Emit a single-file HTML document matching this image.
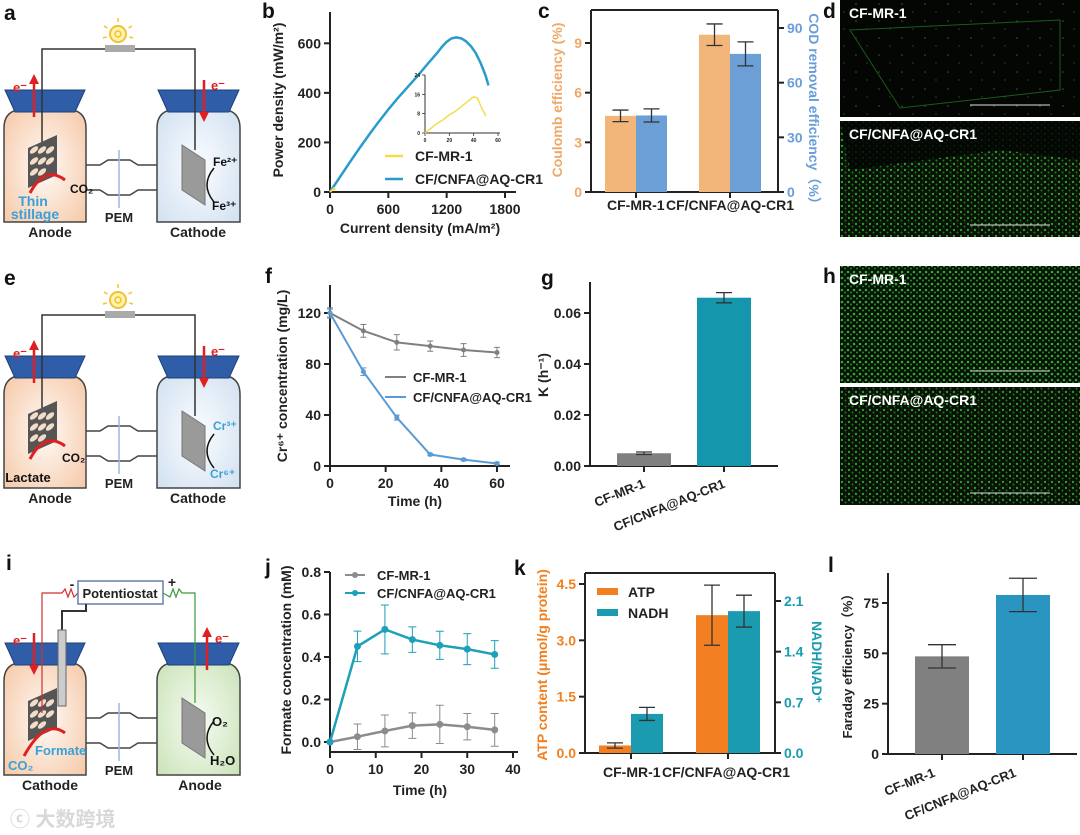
<!DOCTYPE html>
<html><head><meta charset="utf-8">
<style>
html,body{margin:0;padding:0;background:#fff;}
svg{display:block;font-family:"Liberation Sans","Noto Sans CJK SC",sans-serif;}
text{font-weight:bold;}
</style></head>
<body>
<svg id="fig" width="1080" height="835" viewBox="0 0 1080 835" xmlns="http://www.w3.org/2000/svg">
<defs>
<radialGradient id="peach" cx="50%" cy="55%" r="70%"><stop offset="0" stop-color="#fffaf6"/><stop offset="1" stop-color="#f5c6a4"/></radialGradient>
<radialGradient id="icy" cx="50%" cy="55%" r="70%"><stop offset="0" stop-color="#fbfdff"/><stop offset="1" stop-color="#cfdff0"/></radialGradient>
<radialGradient id="mint" cx="50%" cy="55%" r="70%"><stop offset="0" stop-color="#f6fbf2"/><stop offset="1" stop-color="#c8e2b6"/></radialGradient>
<pattern id="sparse" width="23" height="17" patternUnits="userSpaceOnUse"><rect width="23" height="17" fill="#030603"/><circle cx="5" cy="4" r="0.8" fill="#1f6b1f"/><circle cx="16" cy="12" r="0.7" fill="#1a5a1a"/></pattern>
<pattern id="dense" width="7" height="6" patternUnits="userSpaceOnUse"><rect width="7" height="6" fill="#061006"/><circle cx="2" cy="2" r="1.2" fill="#2f9a2f"/><circle cx="5.5" cy="4.5" r="1" fill="#237823"/><circle cx="6" cy="1" r="0.5" fill="#7a2a1a"/></pattern>
<pattern id="dense2" width="6" height="6" patternUnits="userSpaceOnUse"><rect width="6" height="6" fill="#071207"/><circle cx="2" cy="2" r="1.3" fill="#35a635"/><circle cx="5" cy="4.5" r="1" fill="#2a8a2a"/></pattern>
</defs>
</svg>
<script>
// ---------- chart data ----------
const bCurrentBlue = [0,100,200,300,400,500,600,700,800,900,1000,1100,1150,1200,1250,1300,1350,1400,1450,1500,1550,1600,1630];
const bPowerBlue   = [0,59,118,175,230,283,333,380,424,468,515,560,585,606,620,624,620,608,588,560,520,470,430];
const bCurrentYellow = [0,5,10,15,20,25,30,35,40,43,46,50];
const bPowerYellow   = [0,2,4,5.5,7.5,9,11,13,15,14.5,11,7];
const bXTicks = [0,600,1200,1800];
const bYTicks = [0,200,400,600];
const bInsetXTicks = [0,20,40,60];
const bInsetYTicks = [0,8,16,24];

const cCategories = ["CF-MR-1","CF/CNFA@AQ-CR1"];
const cCoulomb = [4.6,9.5];
const cCoulombErr = [0.35,0.65];
const cCOD = [42,75.8];
const cCODErr = [3.6,6.6];
const cLeftTicks = [0,3,6,9];
const cRightTicks = [0,30,60,90];

const fTime = [0,12,24,36,48,60];
const fGrey = [120,106,97,94,91,89];
const fGreyErr = [4,5,6,4,5,4];
const fBlue = [120,74,38,9,5,2];
const fBlueErr = [3,3,2,1,1,1];
const fXTicks = [0,20,40,60];
const fYTicks = [0,40,80,120];

const gCategories = ["CF-MR-1","CF/CNFA@AQ-CR1"];
const gK = [0.005,0.066];
const gKErr = [0.0005,0.002];
const gYTicks = [0,0.02,0.04,0.06];

const jTime = [0,6,12,18,24,30,36];
const jGrey = [0,0.025,0.052,0.077,0.083,0.072,0.057];
const jGreyErr = [0,0.06,0.075,0.06,0.09,0.062,0.077];
const jTeal = [0,0.45,0.53,0.482,0.455,0.437,0.412];
const jTealErr = [0,0.072,0.115,0.06,0.066,0.073,0.065];
const jXTicks = [0,10,20,30,40];
const jYTicks = [0,0.2,0.4,0.6,0.8];

const kCategories = ["CF-MR-1","CF/CNFA@AQ-CR1"];
const kATP = [0.2,3.67];
const kATPErr = [0.07,0.8];
const kNADH = [0.54,1.96];
const kNADHErr = [0.09,0.22];
const kLeftTicks = [0,1.5,3.0,4.5];
const kRightTicks = [0,0.7,1.4,2.1];

const lCategories = ["CF-MR-1","CF/CNFA@AQ-CR1"];
const lFaraday = [48.5,79];
const lFaradayErr = [5.8,8.3];
const lYTicks = [0,25,50,75];

// ---------- helpers ----------
const NS='http://www.w3.org/2000/svg';
const svg=document.getElementById('fig');
function mk(parent,tag,attrs,txt){const e=document.createElementNS(NS,tag);for(const k in attrs)e.setAttribute(k,attrs[k]);if(txt!==undefined)e.textContent=txt;parent.appendChild(e);return e;}
function lin(d0,d1,r0,r1){return v=>r0+(v-d0)*(r1-r0)/(d1-d0);}
function grp(name){const g=mk(svg,'g',{});


return g;}
function label(g,x,y,t,name,opt){opt=opt||{};const e=mk(g,'text',{x:x,y:y,'font-size':opt.fs||13,'text-anchor':opt.anchor||'middle',fill:opt.fill||'#222'},t);
if(opt.rot!==undefined)e.setAttribute('transform','rotate('+opt.rot+' '+x+' '+y+')');


return e;}
function line(g,x1,y1,x2,y2,c,w,name){const e=mk(g,'line',{x1:x1,y1:y1,x2:x2,y2:y2,stroke:c||'#222','stroke-width':w||2});


return e;}
function yAxis(g,x,yb,yt,sc,ticks,fmt,side,col){line(g,x,yb,x,yt,'#222',2,'y-axis');
ticks.forEach(t=>{const y=sc(t);const dx=side==='r'?6:-6;line(g,x,y,x+dx,y,'#222',2,'y-tick');
label(g,x+(side==='r'?9:-9),y+5,fmt(t),'y-tick-label',{anchor:side==='r'?'start':'end',fill:col||'#222',fs:14});});}
function xAxis(g,y,xl,xr,sc,ticks,fmt){line(g,xl,y,xr,y,'#222',2,'x-axis');
ticks.forEach(t=>{const x=sc(t);line(g,x,y,x,y+6,'#222',2,'x-tick');label(g,x,y+22,fmt(t),'x-tick-label',{fs:14});});}
function errbar(g,x,y1,y2,cap,c,w){const e=mk(g,'path',{d:`M${x-cap} ${y1}H${x+cap}M${x} ${y1}V${y2}M${x-cap} ${y2}H${x+cap}`,stroke:c||'#333','stroke-width':w||1.3,fill:'none'});

}
function bar(g,x0,x1,yv,y0,fill,name){const r=mk(g,'rect',{x:x0,y:yv,width:x1-x0,height:y0-yv,fill:fill});


return r;}
function poly(g,xs,ys,sx,sy,col,w,name){const p=mk(g,'polyline',{points:xs.map((v,i)=>sx(v)+','+sy(ys[i])).join(' '),fill:'none',stroke:col,'stroke-width':w,'stroke-linejoin':'round'});

}
function letter(x,y,t){label(svg,x,y,t,'panel-label-'+t,{fs:21,anchor:'start',fill:'#111'});}

// ---------- schematics ----------
function cell(oy,leftFill,rightFill,kind){
 const g=grp('schematic-'+kind);
 const jar=(x0,x1,fill,nm)=>{const p=mk(g,'path',{d:`M${x0+13} ${oy+100}H${x1-13}V${oy+110}Q${x1} ${oy+113} ${x1} ${oy+128}V${oy+222}H${x0}V${oy+128}Q${x0} ${oy+113} ${x0+13} ${oy+110}Z`,fill:fill,stroke:'#444','stroke-width':1.5});
  
  
  const c=mk(g,'path',{d:`M${x0+1} ${oy+90}H${x1-1}L${x1-11} ${oy+112}H${x0+11}Z`,fill:'#2f5da8',stroke:'#1d3f7a','stroke-width':1});
  
  };
 const tb=mk(g,'path',{d:`M86 ${oy+165}H100L108 ${oy+160}H130L138 ${oy+165}H157M86 ${oy+190}H100L108 ${oy+195}H130L138 ${oy+190}H157`,stroke:'#444','stroke-width':1.5,fill:'none'});
 
 
 jar(4,86,leftFill,'left-chamber');
 jar(157,240,rightFill,'right-chamber');
 line(g,119,oy+150,119,oy+208,'#9bb8de',1.5,'pem-membrane');
 label(g,119,oy+222,'PEM','pem-label',{fs:13});
 if(kind!=='i'){
  mk(g,'path',{d:`M42 ${oy+160}V${oy+49}H195V${oy+150}`,stroke:'#333','stroke-width':1.5,fill:'none'});
  mk(g,'rect',{x:105,y:oy+45,width:30,height:7,fill:'#aaa'});
  mk(g,'circle',{cx:118,cy:oy+34,r:8,fill:'#fff3b0',stroke:'#f1c232','stroke-width':2});
  mk(g,'circle',{cx:118,cy:oy+34,r:3,fill:'none',stroke:'#f1c232','stroke-width':1.5});
  [[-14,-8],[14,-8],[0,-16],[-15,4],[15,4]].forEach(d=>mk(g,'line',{x1:118+d[0]*0.75,y1:oy+34+d[1]*0.75,x2:118+d[0],y2:oy+34+d[1],stroke:'#f1c232','stroke-width':1.5}));
  label(g,50,oy+237,'Anode','anode-label',{fs:14});
  label(g,198,oy+237,'Cathode','cathode-label',{fs:14});
  mk(g,'path',{d:`M34 ${oy+117}V${oy+80}`,stroke:'#e02020','stroke-width':2.5});
  mk(g,'path',{d:`M29 ${oy+84}L34 ${oy+74}L39 ${oy+84}Z`,fill:'#e02020'});
  label(g,20,oy+92,'e⁻','electron-label-anode',{fs:13,fill:'#e02020'});
  mk(g,'path',{d:`M204 ${oy+80}V${oy+115}`,stroke:'#e02020','stroke-width':2.5});
  mk(g,'path',{d:`M199 ${oy+112}L204 ${oy+122}L209 ${oy+112}Z`,fill:'#e02020'});
  label(g,218,oy+90,'e⁻','electron-label-cathode',{fs:13,fill:'#e02020'});
 }
 mk(g,'path',{d:`M28 ${oy+148}L57 ${oy+135}V${oy+175}L28 ${oy+188}Z`,fill:'#555'});
 for(let i=0;i<8;i++)mk(g,'ellipse',{cx:34+(i%3)*8,cy:oy+150+Math.floor(i/3)*11,rx:5,ry:2.5,fill:'#f3dcc8',transform:`rotate(-40 ${34+(i%3)*8} ${oy+150+Math.floor(i/3)*11})`});
 const ax=kind==='i'?24:30, ay=oy+(kind==='i'?203:193);
 mk(g,'path',{d:`M${ax} ${ay}Q45 ${oy+165} 65 ${oy+180}`,stroke:'#e02020','stroke-width':3,fill:'none'});
 mk(g,'path',{d:`M182 ${oy+145}L205 ${oy+160}V${oy+205}L182 ${oy+190}Z`,fill:'#9a9a9a',stroke:'#777'});
 mk(g,'path',{d:`M214 ${oy+168}Q200 ${oy+185} 214 ${oy+202}`,stroke:'#111','stroke-width':1.5,fill:'none'});
 if(kind==='a'){
  label(g,70,oy+193,'CO₂','co2-label',{fs:12,anchor:'start',fill:'#111'});
  label(g,33,oy+206,'Thin','substrate-label',{fs:14,fill:'#3aa0d8'});
  label(g,35,oy+219,'stillage','substrate-label-2',{fs:14,fill:'#3aa0d8'});
  label(g,213,oy+166,'Fe²⁺','fe2-label',{fs:12,anchor:'start',fill:'#111'});
  label(g,212,oy+210,'Fe³⁺','fe3-label',{fs:12,anchor:'start',fill:'#111'});
 } else if(kind==='e'){
  label(g,62,oy+196,'CO₂','co2-label',{fs:12,anchor:'start',fill:'#111'});
  label(g,28,oy+216,'Lactate','substrate-label',{fs:13,fill:'#111'});
  label(g,213,oy+164,'Cr³⁺','cr3-label',{fs:12,anchor:'start',fill:'#3aa0d8'});
  label(g,210,oy+212,'Cr⁶⁺','cr6-label',{fs:12,anchor:'start',fill:'#3aa0d8'});
 } else {
  label(g,50,oy+237,'Cathode','cathode-label',{fs:14});
  label(g,200,oy+237,'Anode','anode-label',{fs:14});
  mk(g,'path',{d:`M42 ${oy+160}V${oy+40}H62L65 ${oy+36}L68 ${oy+44}L71 ${oy+36}L74 ${oy+44}L78 ${oy+40}`,stroke:'#d03030','stroke-width':1.2,fill:'none'});
  mk(g,'path',{d:`M195 ${oy+150}V${oy+40}H182L179 ${oy+36}L176 ${oy+44}L173 ${oy+36}L170 ${oy+44}L163 ${oy+40}`,stroke:'#3a9a3a','stroke-width':1.2,fill:'none'});
  const pb=mk(g,'rect',{x:78,y:oy+28,width:85,height:23,fill:'#fff',stroke:'#6a7fa8','stroke-width':1.5});
  
  
  label(g,120,oy+45,'Potentiostat','potentiostat-label',{fs:13});
  label(g,72,oy+36,'-','minus-label',{fs:14});
  label(g,172,oy+34,'+','plus-label',{fs:14});
  mk(g,'path',{d:`M86 ${oy+51}V${oy+58}H62V${oy+80}`,stroke:'#333','stroke-width':2,fill:'none'});
  mk(g,'rect',{x:58,y:oy+77,width:8,height:76,fill:'#ccc',stroke:'#666'});
  mk(g,'path',{d:`M34 ${oy+80}V${oy+117}`,stroke:'#e02020','stroke-width':2.5});
  mk(g,'path',{d:`M29 ${oy+112}L34 ${oy+122}L39 ${oy+112}Z`,fill:'#e02020'});
  label(g,20,oy+92,'e⁻','electron-label-cathode',{fs:13,fill:'#e02020'});
  mk(g,'path',{d:`M207 ${oy+117}V${oy+80}`,stroke:'#e02020','stroke-width':2.5});
  mk(g,'path',{d:`M202 ${oy+84}L207 ${oy+74}L212 ${oy+84}Z`,fill:'#e02020'});
  label(g,222,oy+90,'e⁻','electron-label-anode',{fs:13,fill:'#e02020'});
  label(g,35,oy+202,'Formate','product-label',{fs:13,anchor:'start',fill:'#3aa0d8'});
  label(g,8,oy+217,'CO₂','co2-label',{fs:13,anchor:'start',fill:'#3aa0d8'});
  label(g,212,oy+173,'O₂','o2-label',{fs:13,anchor:'start',fill:'#111'});
  label(g,210,oy+212,'H₂O','h2o-label',{fs:13,anchor:'start',fill:'#111'});
 }
}
cell(0,'url(#peach)','url(#icy)','a');
cell(266,'url(#peach)','url(#icy)','e');
cell(553,'url(#peach)','url(#mint)','i');
letter(4,20,'a');letter(4,285,'e');letter(6,570,'i');
label(svg,10,826,'ⓒ 大数跨境','watermark',{fs:20,anchor:'start',fill:'#d8d8d8'});

// ---------- panel b ----------
(function(){const g=grp('panel-b-power-density');
 const sx=lin(0,1800,330,505), sy=lin(0,600,192,43.3);
 yAxis(g,330,192,12,sy,bYTicks,v=>v,'l');
 xAxis(g,192,330,516,sx,bXTicks,v=>v);
 poly(g,bCurrentBlue,bPowerBlue,sx,sy,'#2a9ccc',2.5,'series-cf-cnfa-aq-cr1');
 poly(g,bCurrentYellow,bPowerYellow,sx,sy,'#f2de4a',2,'series-cf-mr-1');
 label(g,283,100,'Power density (mW/m²)','y-axis-title',{fs:14,rot:-90});
 label(g,420,233,'Current density (mA/m²)','x-axis-title',{fs:14});
 const ix=lin(0,60,425,498), iy=lin(0,24,133,75);
 line(g,425,133,425,75,'#333',1,'inset-y-axis');line(g,425,133,500,133,'#333',1,'inset-x-axis');
 bInsetYTicks.forEach(t=>{line(g,425,iy(t),422,iy(t),'#333',0.8,'inset-tick');label(g,420,iy(t)+2,t,'inset-tick-label',{fs:5,anchor:'end'});});
 bInsetXTicks.forEach(t=>{line(g,ix(t),133,ix(t),136,'#333',0.8,'inset-tick');label(g,ix(t),142,t,'inset-tick-label',{fs:5});});
 poly(g,bCurrentYellow,bPowerYellow,ix,iy,'#f2de4a',1.5,'inset-series-cf-mr-1');
 line(g,385,156,403,156,'#f2de4a',2.5,'legend-swatch-cf-mr-1');label(g,415,161,'CF-MR-1','legend-cf-mr-1',{anchor:'start',fs:14});
 line(g,385,179,403,179,'#2a9ccc',2.5,'legend-swatch-cf-cnfa');label(g,415,184,'CF/CNFA@AQ-CR1','legend-cf-cnfa',{anchor:'start',fs:14});
})();
letter(262,18,'b');

// ---------- panel c ----------
(function(){const g=grp('panel-c-efficiency');
 const syl=lin(0,9,192,43), syr=lin(0,90,192,28);
 line(g,591,10,778,10,'#222',2,'top-frame');
 yAxis(g,591,192,10,syl,cLeftTicks,v=>v,'l','#f0a868');
 yAxis(g,778,192,10,syr,cRightTicks,v=>v,'r','#6a9ed8');
 line(g,591,192,778,192,'#222',2,'x-axis');
 const groups=[605,699], bw=31;
 cCategories.forEach((c,i)=>{const x=groups[i];
  bar(g,x,x+bw,syl(cCoulomb[i]),192,'#f2b57a','bar-coulomb-'+i);
  bar(g,x+bw,x+2*bw,syr(cCOD[i]),192,'#6b9fd6','bar-cod-'+i);
  errbar(g,x+bw/2,syl(cCoulomb[i]+cCoulombErr[i]),syl(cCoulomb[i]-cCoulombErr[i]),8);
  errbar(g,x+1.5*bw,syr(cCOD[i]+cCODErr[i]),syr(cCOD[i]-cCODErr[i]),8);
  line(g,x+bw,192,x+bw,198,'#222',2,'x-tick');});
 label(g,607,210,cCategories[0],'x-label-cf-mr-1',{anchor:'start',fs:14});
 label(g,666,210,cCategories[1],'x-label-cf-cnfa',{anchor:'start',fs:14});
 label(g,562,100,'Coulomb efficiency (%)','y-axis-title-left',{fs:14,rot:-90,fill:'#f0a868'});
 label(g,809,112,'COD removal efficiency（%）','y-axis-title-right',{fs:14,rot:90,fill:'#6a9ed8'});
})();
letter(538,18,'c');

// ---------- images d, h ----------
function micro(x,y,w,h,fill,t,name){const g=grp(name);
 const r=mk(g,'rect',{x:x,y:y,width:w,height:h,fill:fill});
 
 
 label(g,x+9,y+18,t,'image-label',{anchor:'start',fill:'#fff',fs:14});
 line(g,x+130,y+h-12,x+210,y+h-12,'#ddd',1,'scale-bar');}
micro(840,0,240,117,'url(#sparse)','CF-MR-1','image-d-top');
micro(840,121,240,116,'url(#dense)','CF/CNFA@AQ-CR1','image-d-bottom');
micro(840,266,240,117,'url(#dense2)','CF-MR-1','image-h-top');
micro(840,387,240,118,'url(#dense)','CF/CNFA@AQ-CR1','image-h-bottom');
mk(svg,'path',{d:'M850 30L1060 20V90L900 108Z',fill:'none',stroke:'#1c5a1c','stroke-width':1});
mk(svg,'path',{d:'M840 121H1080V160L1000 150L850 170Z',fill:'#030603',opacity:0.85});
label(svg,849,139,'CF/CNFA@AQ-CR1','image-label-d-bottom',{anchor:'start',fill:'#fff',fs:14});
letter(823,18,'d');letter(823,283,'h');

// ---------- panel f ----------
(function(){const g=grp('panel-f-cr6-concentration');
 const sx=lin(0,60,330,497), sy=lin(0,120,466,313);
 yAxis(g,330,466,285,sy,fYTicks,v=>v,'l');
 xAxis(g,466,330,510,sx,fXTicks,v=>v);
 [[fGrey,fGreyErr,'#808080','series-cf-mr-1'],[fBlue,fBlueErr,'#5b9bd5','series-cf-cnfa-aq-cr1']].forEach(s=>{
  poly(g,fTime,s[0],sx,sy,s[2],2,s[3]);
  fTime.forEach((t,i)=>{errbar(g,sx(t),sy(s[0][i]+s[1][i]),sy(s[0][i]-s[1][i]),3,s[2],1);
   const c=mk(g,'circle',{cx:sx(t),cy:sy(s[0][i]),r:2.5,fill:s[2]});
   
   });});
 line(g,385,377,406,377,'#808080',2,'legend-swatch-cf-mr-1');label(g,413,382,'CF-MR-1','legend-cf-mr-1',{anchor:'start',fs:13});
 line(g,385,397,406,397,'#5b9bd5',2,'legend-swatch-cf-cnfa');label(g,413,402,'CF/CNFA@AQ-CR1','legend-cf-cnfa',{anchor:'start',fs:13});
 label(g,287,376,'Cr⁶⁺ concentration (mg/L)','y-axis-title',{fs:14,rot:-90});
 label(g,415,506,'Time (h)','x-axis-title',{fs:14});
})();
letter(265,283,'f');

// ---------- panel g ----------
(function(){const g=grp('panel-g-rate-constant');
 const sy=lin(0,0.06,466,313);
 yAxis(g,590,466,282,sy,gYTicks,v=>v.toFixed(2),'l');
 line(g,590,466,778,466,'#222',2,'x-axis');
 const xs=[617,697], bw=54, cols=['#808080','#1496ac'];
 gCategories.forEach((c,i)=>{bar(g,xs[i],xs[i]+bw,sy(gK[i]),466,cols[i],'bar-'+i);
  errbar(g,xs[i]+bw/2,sy(gK[i]+gKErr[i]),sy(gK[i]-gKErr[i]),8);
  const tx=xs[i]+bw/2;line(g,tx,466,tx,472,'#222',2,'x-tick');
  label(g,tx+2,487,c,'x-label-'+i,{anchor:'end',rot:-22,fs:13});});
 label(g,548,375,'K (h⁻¹)','y-axis-title',{fs:14,rot:-90});
})();
letter(541,285,'g');

// ---------- panel j ----------
(function(){const g=grp('panel-j-formate');
 const sx=lin(0,40,330,513), sy=lin(0,0.8,742,572);
 yAxis(g,330,752,572,sy,jYTicks,v=>v.toFixed(1),'l');
 xAxis(g,752,330,518,sx,jXTicks,v=>v);
 [[jGrey,jGreyErr,'#8c8c8c','series-cf-mr-1'],[jTeal,jTealErr,'#1ea0b8','series-cf-cnfa-aq-cr1']].forEach(s=>{
  poly(g,jTime,s[0],sx,sy,s[2],2.5,s[3]);
  jTime.forEach((t,i)=>{if(s[1][i]>0)errbar(g,sx(t),sy(s[0][i]+s[1][i]),sy(s[0][i]-s[1][i]),4,s[2],1);
   const c=mk(g,'circle',{cx:sx(t),cy:sy(s[0][i]),r:3.5,fill:s[2]});
   
   });});
 line(g,345,575,365,575,'#8c8c8c',2,'legend-swatch-cf-mr-1');mk(g,'circle',{cx:355,cy:575,r:3,fill:'#8c8c8c'});
 label(g,377,580,'CF-MR-1','legend-cf-mr-1',{anchor:'start',fs:13});
 line(g,345,593,365,593,'#1ea0b8',2,'legend-swatch-cf-cnfa');mk(g,'circle',{cx:355,cy:593,r:3,fill:'#1ea0b8'});
 label(g,377,598,'CF/CNFA@AQ-CR1','legend-cf-cnfa',{anchor:'start',fs:13});
 label(g,291,660,'Formate concentration (mM)','y-axis-title',{fs:14,rot:-90});
 label(g,420,795,'Time (h)','x-axis-title',{fs:14});
})();
letter(265,574,'j');

// ---------- panel k ----------
(function(){const g=grp('panel-k-atp-nadh');
 const syl=lin(0,4.5,753,584), syr=lin(0,2.1,753,601);
 line(g,585,573,775,573,'#222',2,'top-frame');
 yAxis(g,585,753,573,syl,kLeftTicks,v=>v.toFixed(1),'l','#f08020');
 yAxis(g,775,753,573,syr,kRightTicks,v=>v.toFixed(1),'r','#1a9bb0');
 line(g,585,753,775,753,'#222',2,'x-axis');
 const xs=[599,696], bw=32;
 kCategories.forEach((c,i)=>{const x=xs[i];
  bar(g,x,x+bw,syl(kATP[i]),753,'#f28022','bar-atp-'+i);
  bar(g,x+bw,x+2*bw,syr(kNADH[i]),753,'#1a9bb0','bar-nadh-'+i);
  errbar(g,x+bw/2,syl(kATP[i]+kATPErr[i]),syl(kATP[i]-kATPErr[i]),8);
  errbar(g,x+1.5*bw,syr(kNADH[i]+kNADHErr[i]),syr(kNADH[i]-kNADHErr[i]),8);
  line(g,x+bw,753,x+bw,759,'#222',2,'x-tick');});
 bar(g,597,618,588,595,'#f28022','legend-swatch-atp');label(g,628,597,'ATP','legend-atp',{anchor:'start',fs:14});
 bar(g,597,618,609,616,'#1a9bb0','legend-swatch-nadh');label(g,628,618,'NADH','legend-nadh',{anchor:'start',fs:14});
 label(g,603,777,kCategories[0],'x-label-cf-mr-1',{anchor:'start',fs:14});
 label(g,662,777,kCategories[1],'x-label-cf-cnfa',{anchor:'start',fs:14});
 label(g,547,665,'ATP content (μmol/g protein)','y-axis-title-left',{fs:14,rot:-90,fill:'#f08020'});
 label(g,812,662,'NADH/NAD⁺','y-axis-title-right',{fs:14,rot:90,fill:'#1a9bb0'});
})();
letter(514,575,'k');

// ---------- panel l ----------
(function(){const g=grp('panel-l-faraday');
 const sy=lin(0,75,754,603);
 yAxis(g,888,754,573,sy,lYTicks,v=>v,'l');
 line(g,888,754,1077,754,'#222',2,'x-axis');
 const xs=[915,996], bw=54, cols=['#808080','#2a95c0'];
 lCategories.forEach((c,i)=>{bar(g,xs[i],xs[i]+bw,sy(lFaraday[i]),754,cols[i],'bar-'+i);
  errbar(g,xs[i]+bw/2,sy(lFaraday[i]+lFaradayErr[i]),sy(lFaraday[i]-lFaradayErr[i]),14);
  const tx=xs[i]+bw/2;line(g,tx,754,tx,760,'#222',2,'x-tick');
  label(g,tx-6,776,c,'x-label-'+i,{anchor:'end',rot:-22,fs:13});});
 label(g,852,663,'Faraday efficiency（%）','y-axis-title',{fs:13,rot:-90});
})();
letter(828,572,'l');
</script>
</body></html>
